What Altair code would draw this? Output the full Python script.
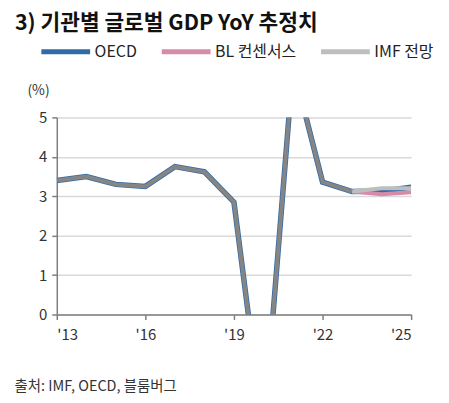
import altair as alt
import pandas as pd

years = list(range(2013, 2026))
oecd = [3.4, 3.5, 3.3, 3.25, 3.75, 3.62, 2.85, -3.0, 6.3, 3.36, 3.12, 3.13, 3.23]
imf = [3.4, 3.5, 3.3, 3.25, 3.75, 3.62, 2.85, -3.0, 6.3, 3.36, 3.12, 3.2, 3.2]
bl_years = [2023, 2024, 2025]
bl = [3.12, 3.05, 3.1]

series_names = ["OECD", "BL 컨센서스", "IMF 전망"]
series_colors = ["#2F6BA8", "#D68CA8", "#BEBEBE"]

rows = []
for y, v in zip(years, oecd):
    rows.append({"year": y, "value": v, "series": "OECD", "part": "all"})
for y, v in zip(bl_years, bl):
    rows.append({"year": y, "value": v, "series": "BL 컨센서스", "part": "all"})
for y, v in zip(years, imf):
    rows.append({"year": y, "value": v, "series": "IMF 전망",
                 "part": "hist" if y <= 2023 else "fc"})
df = pd.DataFrame(rows)

font = "Noto Sans CJK KR"

xenc = alt.X("year:Q", scale=alt.Scale(domain=[2013, 2025], nice=False, zero=False),
             axis=alt.Axis(values=[2013, 2016, 2019, 2022, 2025],
                           labelExpr="\"'\" + slice(toString(datum.value), 2)",
                           grid=False, domainColor="#7f7f7f", domainWidth=1.5,
                           tickColor="#7f7f7f", tickWidth=1.5, tickSize=5,
                           labelFontSize=15, labelColor="#333333", labelPadding=8,
                           labelFont=font,
                           title="출처: IMF, OECD, 블룸버그",
                           titleFont=font, titleFontSize=14.5, titleFontWeight="normal",
                           titleColor="#333333", titleAlign="left", titleAnchor="start",
                           titleBaseline="middle", titleX=-43, titleY=72))
yenc = alt.Y("value:Q", scale=alt.Scale(domain=[0, 5], nice=False),
             axis=alt.Axis(values=[0, 1, 2, 3, 4, 5], grid=True, gridColor="#d9d9d9",
                           gridWidth=1.5, domainColor="#7f7f7f", domainWidth=1.5,
                           tickColor="#7f7f7f", tickWidth=1.5, tickSize=5,
                           labelFontSize=15, labelColor="#333333", labelPadding=5,
                           labelFont=font,
                           title="(%)", titleAngle=0, titleFont=font, titleFontSize=14,
                           titleFontWeight="normal", titleColor="#333333",
                           titleAlign="left", titleBaseline="middle",
                           titleX=-30, titleY=-27))

color = alt.Color("series:N",
                  scale=alt.Scale(domain=series_names, range=series_colors),
                  sort=series_names,
                  legend=alt.Legend(title=None, orient="none", direction="horizontal",
                                    legendX=-18, legendY=-93,
                                    symbolType="stroke", symbolSize=2400,
                                    symbolStrokeWidth=5, labelFontSize=16,
                                    labelFontWeight="normal",
                                    labelFont=font, labelColor="#222222",
                                    labelOffset=2, columnPadding=14))

base = alt.Chart(df)

l_oecd = base.transform_filter("datum.series == 'OECD'").mark_line(
    strokeWidth=5.5, clip=True).encode(x=xenc, y=yenc, color=color)
l_bl = base.transform_filter("datum.series == 'BL 컨센서스'").mark_line(
    strokeWidth=4, clip=True).encode(x=xenc, y=yenc, color=color)
l_fc = base.transform_filter("datum.series == 'IMF 전망' && datum.year >= 2023").mark_line(
    strokeWidth=4, clip=True).encode(x=xenc, y=yenc, color=color)
l_hist = base.transform_filter("datum.series == 'IMF 전망' && datum.part == 'hist'").mark_line(
    strokeWidth=4, clip=True, color="#858585").encode(x=xenc, y=yenc)

chart = alt.layer(l_oecd, l_bl, l_fc, l_hist).properties(
    width=356, height=198,
    autosize=alt.AutoSizeParams(type="none"),
    padding={"left": 49, "top": 109, "right": 30, "bottom": 85},
    title=alt.TitleParams("3) 기관별 글로벌 GDP YoY 추정치", anchor="start",
                          font=font, fontSize=21.5, fontWeight=600, color="#111111",
                          dx=-42, offset=-10, frame="group"),
).configure_view(stroke=None)

chart.save("out.html", embed_options={"renderer": "svg", "actions": False})
